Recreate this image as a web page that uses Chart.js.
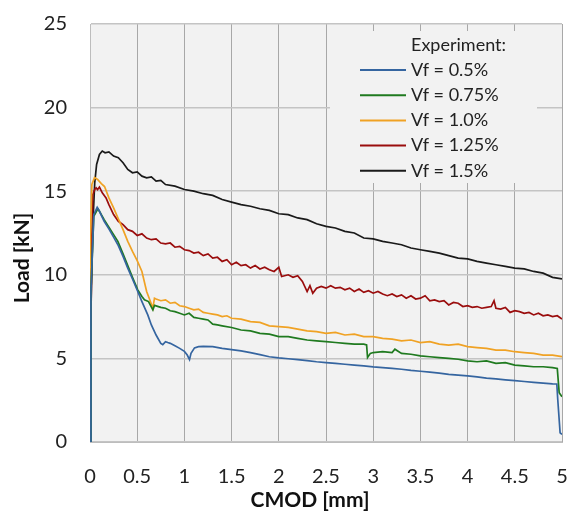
<!DOCTYPE html>
<html>
<head>
<meta charset="utf-8">
<title>Load vs CMOD</title>
<script src="https://cdn.jsdelivr.net/npm/chart.js@4/dist/chart.umd.min.js"></script>
<style>
    html, body { margin: 0; padding: 0; background: #ffffff; }
    canvas { display: block; }
</style>
</head>
<body>
<canvas id="load-chart" width="568" height="512"></canvas>
<script>
// Load vs CMOD curves

const seriesLabels = ['Vf = 0.5%', 'Vf = 0.75%', 'Vf = 1.0%', 'Vf = 1.25%', 'Vf = 1.5%'];
const seriesColors = ['#3565a0', '#1f7a1f', '#f0a224', '#9a0d0d', '#1a1a1a'];

const xTicks = [0, 0.5, 1, 1.5, 2, 2.5, 3, 3.5, 4, 4.5, 5];
const yTicks = [0, 5, 10, 15, 20, 25];

// Vf = 0.5%
const cmod05 = [0, 0.01, 0.04, 0.076, 0.1, 0.15, 0.2, 0.25, 0.3, 0.35, 0.4, 0.45, 0.506, 0.55, 0.612, 0.65, 0.7, 0.75, 0.771, 0.8, 0.824, 0.85, 0.9, 0.95, 1.0, 1.03, 1.054, 1.07, 1.107, 1.15, 1.2, 1.3, 1.4, 1.5, 1.6, 1.7, 1.8, 1.9, 2.0, 2.1, 2.2, 2.3, 2.4, 2.5, 2.6, 2.7, 2.8, 2.9, 3.0, 3.1, 3.2, 3.3, 3.4, 3.5, 3.6, 3.7, 3.8, 3.9, 4.0, 4.1, 4.2, 4.3, 4.4, 4.5, 4.6, 4.7, 4.8, 4.9, 4.945, 4.955, 4.98, 5.0];
const load05 = [0, 9, 13.6, 14.03, 13.8, 13.2, 12.75, 12.25, 11.75, 11.1, 10.4, 9.75, 9.0, 8.4, 7.6, 7.0, 6.4, 5.9, 5.82, 6.0, 5.95, 5.9, 5.75, 5.6, 5.42, 5.2, 4.93, 5.3, 5.63, 5.7, 5.72, 5.7, 5.6, 5.52, 5.45, 5.35, 5.23, 5.1, 5.03, 4.98, 4.93, 4.87, 4.8, 4.75, 4.7, 4.65, 4.6, 4.55, 4.49, 4.45, 4.4, 4.35, 4.28, 4.23, 4.18, 4.12, 4.05, 4.0, 3.95, 3.9, 3.82, 3.77, 3.72, 3.67, 3.62, 3.57, 3.52, 3.48, 3.47, 2.54, 0.55, 0.45];

// Vf = 0.75%
const cmod075 = [0, 0.01, 0.04, 0.06, 0.083, 0.1, 0.15, 0.2, 0.25, 0.295, 0.35, 0.4, 0.45, 0.506, 0.55, 0.577, 0.62, 0.666, 0.683, 0.75, 0.8, 0.85, 0.9, 0.95, 1.0, 1.05, 1.1, 1.15, 1.2, 1.25, 1.3, 1.35, 1.4, 1.5, 1.6, 1.7, 1.8, 1.9, 2.0, 2.1, 2.2, 2.3, 2.4, 2.5, 2.6, 2.7, 2.8, 2.9, 2.93, 2.94, 2.97, 3.0, 3.1, 3.2, 3.23, 3.3, 3.4, 3.5, 3.6, 3.7, 3.8, 3.9, 4.0, 4.1, 4.2, 4.3, 4.4, 4.5, 4.6, 4.7, 4.8, 4.9, 4.95, 4.97, 5.0];
const load075 = [0, 9, 13.5, 13.7, 13.95, 13.8, 13.3, 12.85, 12.4, 12.0, 11.25, 10.55, 9.85, 9.1, 8.7, 8.5, 8.4, 7.9, 8.17, 8.05, 8.0, 7.85, 7.8, 7.7, 7.6, 7.7, 7.45, 7.4, 7.35, 7.3, 7.05, 7.0, 6.95, 6.85, 6.7, 6.65, 6.5, 6.45, 6.3, 6.3, 6.2, 6.1, 6.05, 6.0, 5.95, 5.9, 5.85, 5.85, 5.8, 5.05, 5.3, 5.35, 5.4, 5.35, 5.55, 5.3, 5.25, 5.15, 5.1, 5.05, 5.0, 4.95, 4.85, 4.8, 4.85, 4.7, 4.75, 4.6, 4.55, 4.5, 4.5, 4.45, 4.4, 2.95, 2.7];

// Vf = 1.0%
const cmod10 = [0, 0.005, 0.02, 0.048, 0.08, 0.12, 0.154, 0.2, 0.25, 0.3, 0.35, 0.4, 0.45, 0.5, 0.55, 0.6, 0.64, 0.666, 0.683, 0.7, 0.75, 0.8, 0.85, 0.9, 0.95, 1.0, 1.05, 1.1, 1.15, 1.2, 1.25, 1.3, 1.35, 1.4, 1.45, 1.5, 1.6, 1.7, 1.8, 1.9, 2.0, 2.1, 2.2, 2.3, 2.4, 2.5, 2.6, 2.7, 2.8, 2.9, 3.0, 3.1, 3.2, 3.3, 3.4, 3.5, 3.6, 3.7, 3.8, 3.9, 4.0, 4.1, 4.2, 4.3, 4.4, 4.5, 4.6, 4.7, 4.8, 4.9, 5.0];
const load10 = [0, 12.4, 15.4, 15.82, 15.7, 15.45, 15.28, 14.6, 14.0, 13.35, 12.7, 12.0, 11.4, 10.85, 10.2, 9.0, 8.4, 8.0, 8.6, 8.55, 8.45, 8.5, 8.3, 8.35, 8.15, 8.1, 8.0, 7.9, 7.95, 7.75, 7.7, 7.65, 7.6, 7.5, 7.55, 7.4, 7.35, 7.2, 7.15, 6.95, 6.9, 6.85, 6.75, 6.65, 6.6, 6.5, 6.55, 6.4, 6.45, 6.3, 6.3, 6.2, 6.15, 6.05, 6.1, 5.95, 6.0, 5.85, 5.8, 5.85, 5.7, 5.65, 5.6, 5.5, 5.5, 5.4, 5.35, 5.3, 5.2, 5.2, 5.1];

// Vf = 1.25%
const cmod125 = [0.01, 0.02, 0.03, 0.05, 0.065, 0.08, 0.1, 0.13, 0.17, 0.2, 0.25, 0.3, 0.35, 0.4, 0.45, 0.5, 0.55, 0.6, 0.65, 0.7, 0.75, 0.8, 0.85, 0.9, 0.95, 1.0, 1.05, 1.1, 1.15, 1.2, 1.25, 1.3, 1.35, 1.4, 1.45, 1.5, 1.55, 1.6, 1.65, 1.7, 1.75, 1.8, 1.85, 1.9, 1.95, 2.0, 2.03, 2.1, 2.15, 2.2, 2.25, 2.3, 2.33, 2.36, 2.4, 2.45, 2.5, 2.55, 2.6, 2.65, 2.7, 2.75, 2.8, 2.85, 2.9, 2.95, 3.0, 3.05, 3.1, 3.15, 3.2, 3.25, 3.3, 3.35, 3.4, 3.45, 3.5, 3.55, 3.6, 3.65, 3.7, 3.75, 3.8, 3.85, 3.9, 3.95, 4.0, 4.05, 4.1, 4.15, 4.2, 4.25, 4.28, 4.3, 4.35, 4.4, 4.45, 4.5, 4.55, 4.6, 4.65, 4.7, 4.75, 4.8, 4.85, 4.9, 4.95, 5.0];
const load125 = [7.0, 12.4, 14.8, 15.1, 15.2, 15.1, 15.25, 14.9, 14.6, 14.2, 13.6, 13.2, 13.0, 12.7, 12.6, 12.35, 12.45, 12.2, 12.1, 12.15, 11.9, 11.85, 11.9, 11.65, 11.7, 11.5, 11.45, 11.3, 11.35, 11.15, 11.25, 11.0, 11.05, 10.8, 10.9, 10.6, 10.75, 10.55, 10.6, 10.4, 10.55, 10.35, 10.45, 10.3, 10.2, 10.45, 9.9, 10.0, 9.85, 9.95, 9.6, 9.0, 9.35, 8.9, 9.2, 9.3, 9.2, 9.35, 9.2, 9.25, 9.1, 9.2, 9.0, 9.15, 8.95, 9.05, 8.9, 9.0, 8.85, 8.75, 8.85, 8.7, 8.8, 8.6, 8.75, 8.55, 8.6, 8.75, 8.45, 8.5, 8.4, 8.45, 8.2, 8.35, 8.3, 8.1, 8.15, 8.05, 8.1, 8.0, 8.05, 8.1, 8.45, 8.0, 7.95, 8.05, 7.75, 7.85, 7.8, 7.7, 7.75, 7.6, 7.7, 7.55, 7.6, 7.5, 7.55, 7.35];

// Vf = 1.5%
const cmod15 = [0, 0.01, 0.03, 0.05, 0.07, 0.1, 0.13, 0.16, 0.2, 0.25, 0.3, 0.35, 0.4, 0.45, 0.5, 0.55, 0.6, 0.65, 0.7, 0.75, 0.8, 0.9, 1.0, 1.1, 1.2, 1.3, 1.4, 1.5, 1.6, 1.7, 1.8, 1.9, 2.0, 2.1, 2.2, 2.3, 2.4, 2.5, 2.6, 2.7, 2.8, 2.9, 3.0, 3.1, 3.2, 3.3, 3.4, 3.5, 3.6, 3.7, 3.8, 3.9, 4.0, 4.1, 4.2, 4.3, 4.4, 4.5, 4.6, 4.7, 4.8, 4.9, 5.0];
const load15 = [0, 8, 13, 15.5, 16.6, 17.2, 17.4, 17.3, 17.35, 17.1, 17.0, 16.7, 16.3, 16.1, 16.15, 15.9, 15.8, 15.85, 15.6, 15.65, 15.4, 15.3, 15.1, 15.0, 14.85, 14.75, 14.5, 14.35, 14.2, 14.1, 13.95, 13.85, 13.65, 13.6, 13.4, 13.3, 13.05, 12.9, 12.8, 12.6, 12.5, 12.2, 12.15, 12.0, 11.9, 11.8, 11.6, 11.5, 11.4, 11.3, 11.15, 11.0, 10.95, 10.8, 10.7, 10.6, 10.5, 10.4, 10.35, 10.2, 10.1, 9.85, 9.75];

const seriesX = [cmod05, cmod075, cmod10, cmod125, cmod15];
const seriesY = [load05, load075, load10, load125, load15];

const FONT = 'Lato, "Open Sans", sans-serif';

function toPoints(xs, ys) {
    return xs.map((x, i) => ({ x: x, y: ys[i] }));
}

// Grey plot background
const plotBackground = {
    id: 'plotBackground',
    beforeDraw(chart) {
        const { ctx, chartArea: a } = chart;
        ctx.save();
        ctx.fillStyle = '#f2f2f2';
        ctx.fillRect(a.left, a.top, a.right - a.left, a.bottom - a.top);
        ctx.restore();
    }
};

// Legend box inside the plot, drawn over the grid and under the curves
const insideLegend = {
    id: 'insideLegend',
    beforeDatasetsDraw(chart) {
        const { ctx, chartArea: a } = chart;
        const boxLeft = a.left + 240;
        const boxTop = a.top + 7;
        ctx.save();
        ctx.fillStyle = '#f2f2f2';
        ctx.fillRect(boxLeft, boxTop, 207, 152);

        ctx.font = '18px ' + FONT;
        ctx.textBaseline = 'middle';
        ctx.textAlign = 'left';
        ctx.fillStyle = '#222222';
        ctx.fillText('Experiment:', boxLeft + 81, boxTop + 14);

        chart.data.datasets.forEach((ds, i) => {
            const y = boxTop + 39 + i * 25.2;
            ctx.strokeStyle = ds.borderColor;
            ctx.lineWidth = 2;
            ctx.beginPath();
            ctx.moveTo(boxLeft + 30, y);
            ctx.lineTo(boxLeft + 76, y);
            ctx.stroke();
            ctx.fillStyle = '#222222';
            ctx.fillText(ds.label, boxLeft + 81, y);
        });
        ctx.restore();
    }
};

// Axis titles, placed where the reference has them
const axisTitles = {
    id: 'axisTitles',
    afterDraw(chart) {
        const { ctx } = chart;
        ctx.save();
        ctx.font = 'bold 21px ' + FONT;
        ctx.fillStyle = '#111111';
        ctx.textAlign = 'center';
        ctx.textBaseline = 'middle';
        ctx.fillText('CMOD [mm]', 310, 500);
        ctx.translate(22, 258);
        ctx.rotate(-Math.PI / 2);
        ctx.fillText('Load [kN]', 0, 0);
        ctx.restore();
    }
};

const datasets = seriesLabels.map((label, i) => ({
    label: label,
    data: toPoints(seriesX[i], seriesY[i]),
    borderColor: seriesColors[i],
    backgroundColor: seriesColors[i],
    borderWidth: 1.7,
    showLine: true,
    pointRadius: 0,
    tension: 0
}));

new Chart(document.getElementById('load-chart'), {
    type: 'scatter',
    data: { datasets: datasets },
    options: {
        responsive: false,
        animation: false,
        layout: { padding: { top: 24, right: 6, left: 0, bottom: 0 } },
        plugins: {
            legend: { display: false },
            tooltip: { enabled: false }
        },
        scales: {
            x: {
                type: 'linear',
                min: 0,
                max: 5,
                afterBuildTicks: axis => { axis.ticks = xTicks.map(v => ({ value: v })); },
                afterFit: axis => {
                    axis.height = 70;
                    axis.paddingLeft = 0;
                    axis.paddingRight = 0;
                },
                grid: { color: '#a8a8a8', lineWidth: 1, drawTicks: false },
                border: { color: '#bdbdbd', width: 1 },
                ticks: {
                    padding: 23,
                    color: '#222222',
                    font: { family: FONT, size: 20 },
                    maxRotation: 0,
                    callback: v => String(v)
                }
            },
            y: {
                type: 'linear',
                min: 0,
                max: 25,
                afterBuildTicks: axis => { axis.ticks = yTicks.map(v => ({ value: v })); },
                afterFit: axis => {
                    axis.width = 90;
                    axis.paddingTop = 0;
                    axis.paddingBottom = 0;
                },
                grid: { color: '#c4c4c4', lineWidth: 1.5, drawTicks: false },
                border: { color: '#bdbdbd', width: 1 },
                ticks: { padding: 23, color: '#222222', font: { family: FONT, size: 20 } }
            }
        }
    },
    plugins: [plotBackground, insideLegend, axisTitles]
});
</script>
</body>
</html>
